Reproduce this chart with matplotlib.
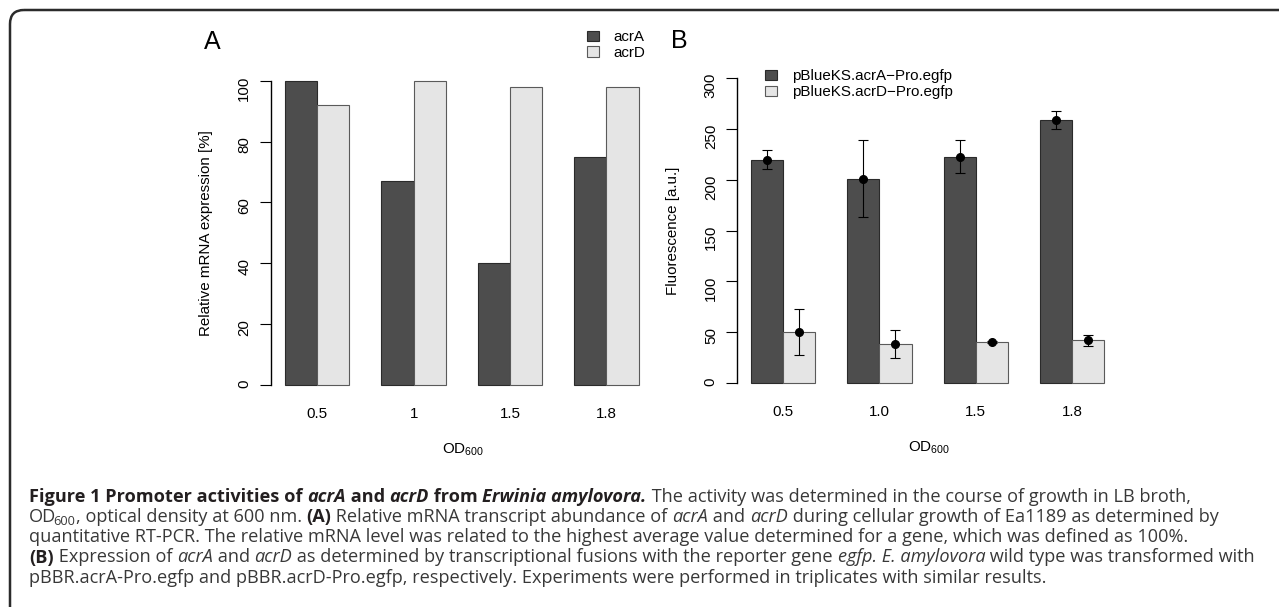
import numpy as np
import matplotlib
matplotlib.use('Agg')
import matplotlib.pyplot as plt
from matplotlib.patches import FancyBboxPatch

W, H, DPI = 1279, 607, 100

# OD600 sampling points
od_a = ['0.5', '1', '1.5', '1.8']
od_b = ['0.5', '1.0', '1.5', '1.8']

# (A) relative mRNA expression [%]
acra_mrna = [100, 67, 40, 75]
acrd_mrna = [92, 100, 98, 98]

# (B) promoter-egfp fluorescence [a.u.], mean and sd
acra_fluo = [220, 201, 223, 259]
acra_sd = [9, 38, 16, 9]
acrd_fluo = [50, 38, 40.5, 42]
acrd_sd = [23, 14, 1, 5.5]

DARK = '#4d4d4d'
LIGHT = '#e5e5e5'
FS = 10.9

plt.rcParams['font.family'] = ['Liberation Sans', 'DejaVu Sans']

fig = plt.figure(figsize=(W / DPI, H / DPI), dpi=DPI)


def px_axes(left, top, right, bottom, **kw):
    return fig.add_axes([left / W, 1 - bottom / H, (right - left) / W, (bottom - top) / H], **kw)


def bar_panel(ax, a, d, labels, xlim, ylim, ymax, ystep):
    centers = np.arange(len(a)) * 3 + 2
    ba = ax.bar(centers - 0.5, a, width=1, color=DARK, edgecolor='#2a2a2a', lw=0.8)
    bd = ax.bar(centers + 0.5, d, width=1, color=LIGHT, edgecolor='#5a5a5a', lw=0.8)
    ax.set_xlim(*xlim)
    ax.set_ylim(*ylim)
    for s in ['top', 'right', 'bottom']:
        ax.spines[s].set_visible(False)
    ax.spines['left'].set_bounds(0, ymax)
    ax.spines['left'].set_linewidth(1.0)
    ax.set_yticks(np.arange(0, ymax + 1, ystep))
    ax.tick_params(axis='y', length=7.7, width=0.8, pad=6.3, labelsize=FS, labelrotation=90)
    ax.set_xticks(centers, labels)
    ax.tick_params(axis='x', length=0, pad=7, labelsize=FS)
    ax.patch.set_visible(False)
    return centers, ba, bd


# panel A
axa = px_axes(270.7, 68.5, 654.7, 397.2)
ca, ba, bd = bar_panel(axa, acra_mrna, acrd_mrna, od_a, (0.555, 12.5), (-4, 104), 100, 20)
axa.set_ylabel('Relative mRNA expression [%]', fontsize=FS, va='center')
axa.yaxis.set_label_coords(-0.1685, 0.5)
axa.set_xlabel(r'OD$_{\mathregular{600}}$', fontsize=FS, va='center')
axa.xaxis.set_label_coords(0.5, -0.1606)
axa.legend([ba, bd], ['acrA', 'acrD'], loc='upper left', bbox_to_anchor=(587 / W, 1 - 30 / H),
           bbox_transform=fig.transFigure, frameon=False, fontsize=FS, borderpad=0,
           borderaxespad=0, handlelength=0.8, handleheight=0.66, handletextpad=0.92,
           labelspacing=0.12)

# panel B
axb = px_axes(737.3, 66.3, 1120.2, 394.9)
cb, ba2, bd2 = bar_panel(axb, acra_fluo, acrd_fluo, od_b, (0.573, 12.5), (-12, 312), 300, 50)
axb.errorbar(cb - 0.5, acra_fluo, yerr=acra_sd, fmt='o', color='black', ms=5.5,
             capsize=3.5, elinewidth=0.8, capthick=0.8)
axb.errorbar(cb + 0.5, acrd_fluo, yerr=acrd_sd, fmt='o', color='black', ms=5.5,
             capsize=3.5, elinewidth=0.8, capthick=0.8)
axb.set_ylabel('Fluorescence [a.u.]', fontsize=FS, va='center')
axb.yaxis.set_label_coords(-0.1687, 0.5)
axb.set_xlabel(r'OD$_{\mathregular{600}}$', fontsize=FS, va='center')
axb.xaxis.set_label_coords(0.5, -0.1616)
axb.legend([ba2, bd2], ['pBlueKS.acrA\u2212Pro.egfp', 'pBlueKS.acrD\u2212Pro.egfp'],
           loc='upper left', bbox_to_anchor=(765 / W, 1 - 69 / H),
           bbox_transform=fig.transFigure, frameon=False, fontsize=FS, borderpad=0,
           borderaxespad=0, handlelength=0.8, handleheight=0.66, handletextpad=0.98,
           labelspacing=0.15)

# overlay in pixel units for the frame, panel letters and caption
ov = fig.add_axes([0, 0, 1, 1], zorder=-1)
ov.set_xlim(0, W)
ov.set_ylim(H, 0)
ov.axis('off')
ov.add_patch(FancyBboxPatch((10, 10), W + 40, H + 40, boxstyle='round,pad=0,rounding_size=14',
                            fc='none', ec='#2b2b2b', lw=1.8))
ov.text(212, 42, 'A', fontsize=18, ha='center', va='center')
ov.text(679, 41, 'B', fontsize=18, ha='center', va='center')

CAP = ['Open Sans', 'DejaVu Sans']
CFS = 13.1
styles = {
    'n': dict(weight='normal', style='normal', color='#383838'),
    'i': dict(weight='normal', style='italic', color='#383838'),
    'b': dict(weight='bold', style='normal', color='#231f20'),
    'bi': dict(weight='bold', style='italic', color='#231f20'),
    's': dict(weight='normal', style='normal', color='#383838'),
}

caption = [
    [('Figure 1 Promoter activities of ', 'b'), ('acrA', 'bi'), (' and ', 'b'), ('acrD', 'bi'),
     (' from ', 'b'), ('Erwinia amylovora.', 'bi'),
     (' The activity was determined in the course of growth in LB broth,', 'n')],
    [('OD', 'n'), ('600', 's'), (', optical density at 600 nm. ', 'n'), ('(A)', 'b'),
     (' Relative mRNA transcript abundance of ', 'n'), ('acrA', 'i'), (' and ', 'n'),
     ('acrD', 'i'), (' during cellular growth of Ea1189 as determined by', 'n')],
    [('quantitative RT-PCR. The relative mRNA level was related to the highest average value '
      'determined for a gene, which was defined as 100%.', 'n')],
    [('(B)', 'b'), (' Expression of ', 'n'), ('acrA', 'i'), (' and ', 'n'), ('acrD', 'i'),
     (' as determined by transcriptional fusions with the reporter gene ', 'n'),
     ('egfp. E. amylovora', 'i'), (' wild type was transformed with', 'n')],
    [('pBBR.acrA-Pro.egfp and pBBR.acrD-Pro.egfp, respectively. Experiments were performed '
      'in triplicates with similar results.', 'n')],
]
baselines = [502, 522, 542, 562.5, 583]

renderer = fig.canvas.get_renderer()
for runs, yb in zip(caption, baselines):
    x = 29
    for txt, st in runs:
        sub = st == 's'
        if sub:
            x -= 2.5
        size = CFS * 0.7 if sub else CFS
        y = yb + 3 if sub else yb
        t = ov.text(x, y, txt, fontsize=size, family=CAP, va='baseline', ha='left', **styles[st])
        x += t.get_window_extent(renderer).width

fig.savefig('out.png', dpi=DPI)
